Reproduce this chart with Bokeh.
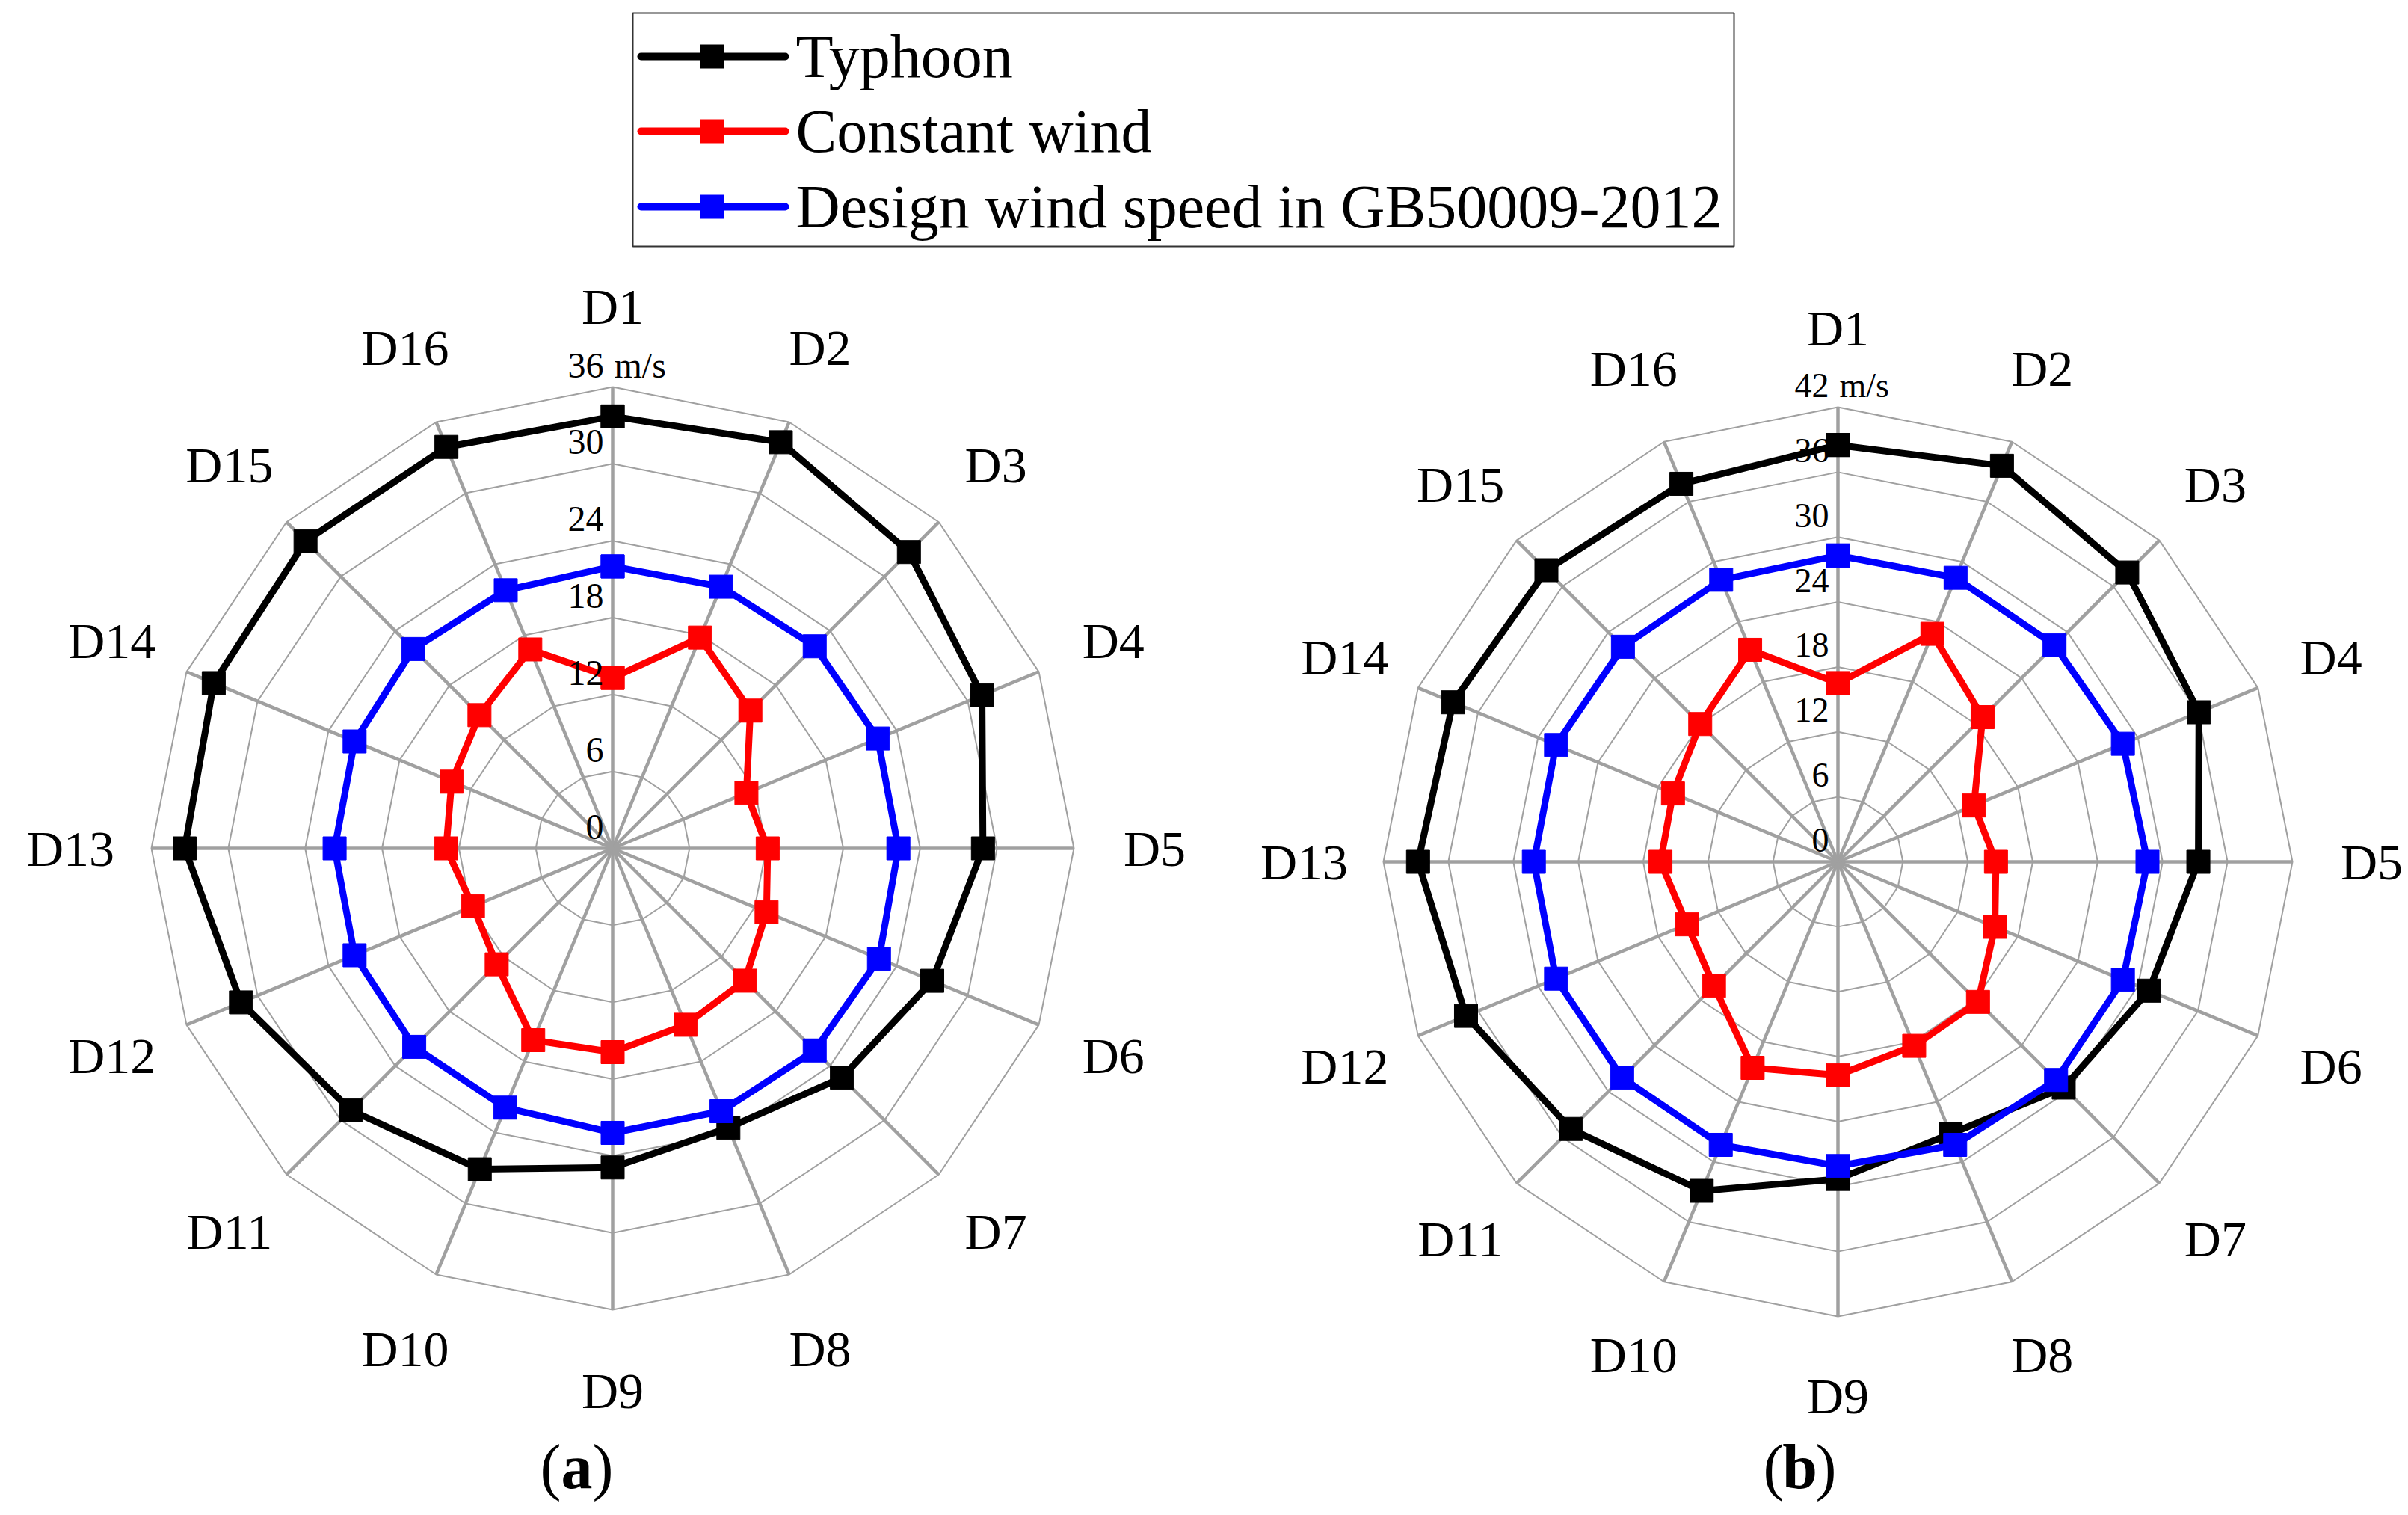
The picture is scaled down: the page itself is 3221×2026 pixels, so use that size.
import numpy as np
from bokeh.plotting import figure
from bokeh.models import Range1d, ColumnDataSource
from bokeh.core.properties import value
from bokeh.embed import file_html
from bokeh.resources import INLINE

# ---------------- data ----------------
directions = ["D1", "D2", "D3", "D4", "D5", "D6", "D7", "D8",
              "D9", "D10", "D11", "D12", "D13", "D14", "D15", "D16"]

series_names = ["Typhoon", "Constant wind", "Design wind speed in GB50009-2012"]
series_colors = ["#000000", "#ff0000", "#0000ff"]

typhoon_a = [33.7, 34.3, 32.7, 31.2, 28.9, 27.0, 25.3, 23.6, 24.9, 27.1, 28.9, 31.4, 33.4, 33.7, 33.9, 33.9]
constant_a = [13.3, 17.8, 15.2, 11.3, 12.1, 13.0, 14.6, 14.9, 15.9, 16.2, 12.8, 11.8, 13.0, 13.6, 14.7, 16.8]
design_a = [22.0, 22.1, 22.3, 22.4, 22.3, 22.5, 22.3, 22.2, 22.2, 21.9, 21.9, 21.8, 21.7, 21.8, 22.0, 21.8]

typhoon_b = [38.5, 39.6, 37.8, 36.1, 33.3, 31.1, 29.5, 27.2, 29.3, 32.9, 34.9, 37.2, 38.8, 38.5, 38.1, 37.8]
constant_b = [16.5, 22.8, 18.9, 13.6, 14.6, 15.7, 18.3, 18.4, 19.7, 20.6, 16.2, 15.1, 16.4, 16.5, 18.0, 21.2]
design_b = [28.3, 28.4, 28.3, 28.5, 28.6, 28.5, 28.5, 28.3, 28.1, 28.3, 28.2, 28.2, 28.1, 28.2, 28.1, 28.2]

ticks_a = [0, 6, 12, 18, 24, 30, 36]
ticks_b = [0, 6, 12, 18, 24, 30, 36, 42]
unit_label = "m/s"
captions = ["a", "b"]

# ---------------- layout ----------------
W, H = 3221, 2026
p = figure(width=W, height=H, output_backend="svg", toolbar_location=None,
           x_range=Range1d(0, W), y_range=Range1d(H, 0),
           min_border=0, outline_line_color=None)
p.axis.visible = False
p.grid.visible = False
p.background_fill_color = "white"
p.border_fill_color = "white"

SERIF = value("Liberation Serif")
GRID = "#a0a0a0"

n = len(directions)
theta = np.pi / 2 - np.arange(n) * 2 * np.pi / n


def radar(cx, cy, R, rmax, ticks, label_r, series, tick_fs, lab_fs):
    scale = R / rmax
    # rings
    xs, ys = [], []
    for t in ticks[1:]:
        r = t * scale
        xs.append(list(cx + r * np.cos(theta)) + [cx + r * np.cos(theta[0])])
        ys.append(list(cy - r * np.sin(theta)) + [cy - r * np.sin(theta[0])])
    p.multi_line(xs, ys, line_color=GRID, line_width=2)
    # spokes
    p.segment(x0=[cx] * n, y0=[cy] * n,
              x1=list(cx + R * np.cos(theta)), y1=list(cy - R * np.sin(theta)),
              line_color=GRID, line_width=4.5)
    # series
    for vals, col in series:
        v = np.array(vals + vals[:1])
        th = np.concatenate([theta, theta[:1]])
        src = ColumnDataSource(dict(x=cx + v * scale * np.cos(th), y=cy - v * scale * np.sin(th)))
        p.line("x", "y", source=src, line_color=col, line_width=9)
        p.scatter("x", "y", source=src, marker="square", size=31,
                  fill_color=col, line_color=col)
    # tick labels
    tsrc = ColumnDataSource(dict(x=[cx - 12] * len(ticks),
                                 y=[cy - t * scale - 29 for t in ticks],
                                 t=[str(t) for t in ticks]))
    p.text("x", "y", text="t", source=tsrc, text_font=SERIF, text_font_size=f"{tick_fs}px",
           text_align="right", text_baseline="middle", text_color="black")
    p.text([cx + 2], [cy - R - 29], text=[unit_label], text_font=SERIF,
           text_font_size=f"{tick_fs}px", text_align="left", text_baseline="middle",
           text_color="black")
    # direction labels
    dsrc = ColumnDataSource(dict(x=cx + label_r * np.cos(theta), y=cy - label_r * np.sin(theta),
                                 t=directions))
    p.text("x", "y", text="t", source=dsrc, text_font=SERIF, text_font_size=f"{lab_fs}px",
           text_align="center", text_baseline="middle", text_color="black")


radar(819, 1134, 617, ticks_a[-1], ticks_a, 725,
      [(typhoon_a, series_colors[0]), (constant_a, series_colors[1]), (design_a, series_colors[2])],
      48, 68)
radar(2458, 1152, 608, ticks_b[-1], ticks_b, 714,
      [(typhoon_b, series_colors[0]), (constant_b, series_colors[1]), (design_b, series_colors[2])],
      46, 68)

# captions (a) (b)
for cxc, cap in zip([771, 2407], captions):
    p.text([cxc], [1961], text=[cap], text_font=SERIF, text_font_size="84px",
           text_font_style="bold", text_align="center", text_baseline="middle")
    p.text([cxc - 21], [1961], text=["("], text_font=SERIF, text_font_size="84px",
           text_align="right", text_baseline="middle")
    p.text([cxc + 21], [1961], text=[")"], text_font=SERIF, text_font_size="84px",
           text_align="left", text_baseline="middle")

# legend
p.quad(left=[846], right=[2319], top=[17], bottom=[329], fill_color="white",
       line_color="#333333", line_width=2)
leg_y = [75, 175, 276]
for name, col, yy in zip(series_names, series_colors, leg_y):
    p.line([857, 1050], [yy, yy], line_color=col, line_width=10, line_cap="round")
    p.scatter([952], [yy], marker="square", size=31, fill_color=col, line_color=col)
    p.text([1064], [yy], text=[name], text_font=SERIF, text_font_size="82px",
           text_align="left", text_baseline="middle", text_color="black")

open("out.html", "w").write(file_html(p, INLINE))
